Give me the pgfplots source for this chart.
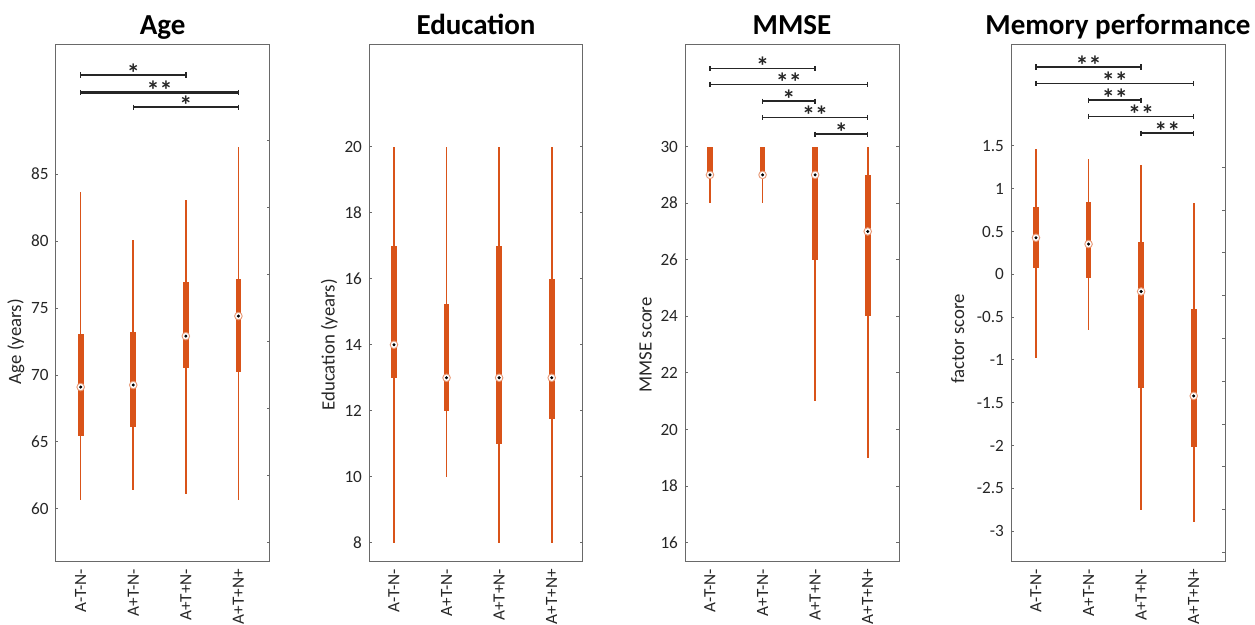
\documentclass[border=0pt]{standalone}
\usepackage{pgfplots}
\pgfplotsset{compat=1.18}
\usepgfplotslibrary{statistics}
\usepackage{fontspec}
\setmainfont{Carlito}
\definecolor{mOr}{RGB}{217,83,25}
\definecolor{spine}{RGB}{105,105,105}
\newcommand{\st}[1]{\raisebox{-5.6pt}{#1}}
\tikzset{sg/.style={font=\bfseries\fontsize{13}{13}\selectfont, anchor=south, yshift=1.85pt, inner sep=0pt, text height=3.8pt, text depth=0pt, text=black!85}}
\pgfplotsset{
  panel/.style={
    scale only axis, width=107pt, height=258.5pt,
    xmin=0.525, xmax=4.595, xtick={1,2,3,4},
    xticklabels={A-T-N-,A+T-N-,A+T+N-,A+T+N+},
    xtick style={draw=none},
    ytick pos=left, tick align=inside, major tick length=1.4pt,
    axis line style={spine, line width=0.5pt},
    every tick/.style={spine, line width=0.5pt},
    tick label style={font=\fontsize{8.6}{10}\selectfont, text=black!85},
    xticklabel style={rotate=90, anchor=east},
    /pgf/number format/assume math mode=true,
    title style={at={(0.5,1)}, anchor=base, yshift=-1pt, font=\bfseries\fontsize{14.5}{16}\selectfont},
    label style={font=\fontsize{9.4}{11}\selectfont, text=black!85},
    boxplot/draw direction=y,
    clip=false,
  },
  rt/.style={
    scale only axis, width=107pt, height=258.5pt,
    xmin=0.525, xmax=4.595, xtick=\empty,
    ytick pos=right, tick align=inside, major tick length=1.4pt,
    axis line style={spine, line width=0.5pt},
    every tick/.style={spine, line width=0.5pt},
    yticklabels={},
  },
  bx/.style={mOr, line width=0.8pt, solid,
    boxplot/draw direction=y,
    boxplot/box extend=0.108, boxplot/whisker extend=0,
    boxplot/every box/.style={draw=none, fill=mOr},
    boxplot/every median/.style={draw=none}},
  med/.style={only marks, mark=*, mark size=1.9pt, mark options={fill=white, draw=mOr!60, line width=0.45pt}},
  mdot/.style={only marks, mark=*, mark size=0.55pt, mark options={fill=black, draw=none}},
  sig/.style={black!85, line width=0.8pt, mark=|, mark size=1.3pt, mark options={solid, line width=0.7pt}},
}
\begin{document}
\begin{tikzpicture}
\path[use as bounding box] (0,0) rectangle (627.5pt,312.5pt);

% ---------------- Age ----------------
\begin{axis}[panel, at={(27.85pt,31.5pt)}, anchor=south west,
  ymin=56.04, ymax=94.64, ytick={60,65,70,75,80,85},
  title={Age}, ylabel={Age (years)}, ylabel style={at={(ticklabel cs:0.426,-3.5pt)}}]
\addplot[bx, boxplot prepared={draw position=1, lower whisker=60.66, lower quartile=65.45, median=69.1, upper quartile=73.06, upper whisker=83.7}] coordinates {};
\addplot[bx, boxplot prepared={draw position=2, lower whisker=61.4, lower quartile=66.13, median=69.25, upper quartile=73.2, upper whisker=80.05}] coordinates {};
\addplot[bx, boxplot prepared={draw position=3, lower whisker=61.1, lower quartile=70.54, median=72.9, upper quartile=76.93, upper whisker=83.1}] coordinates {};
\addplot[bx, boxplot prepared={draw position=4, lower whisker=60.66, lower quartile=70.2, median=74.4, upper quartile=77.2, upper whisker=87.0}] coordinates {};
\addplot[med] coordinates {(1,69.1) (2,69.25) (3,72.9) (4,74.4)};
\addplot[mdot] coordinates {(1,69.1) (2,69.25) (3,72.9) (4,74.4)};
\addplot[sig] coordinates {(1,92.4) (3,92.4)};
\addplot[sig, line width=1.15pt] coordinates {(1,91.1) (4,91.1)};
\addplot[sig] coordinates {(2,90.0) (4,90.0)};
\node[sg] at (axis cs:2,92.4) {\st{*}};
\node[sg] at (axis cs:2.5,91.1) {\st{**}};
\node[sg] at (axis cs:3,90.0) {\st{*}};
\end{axis}
\begin{axis}[rt, at={(27.85pt,31.5pt)}, anchor=south west,
  ymin=56.04, ymax=94.64, ytick={57.5,62.5,67.5,72.5,77.5,82.5,87.5}]
\end{axis}

% ---------------- Education ----------------
\begin{axis}[panel, at={(184.5pt,31.5pt)}, anchor=south west,
  ymin=7.42, ymax=23.08, ytick={8,10,12,14,16,18,20},
  title={Education}, ylabel={Education (years)}, ylabel style={at={(ticklabel cs:0.42,-3.5pt)}}]
\addplot[bx, boxplot prepared={draw position=1, lower whisker=8, lower quartile=13, median=14, upper quartile=17, upper whisker=20}] coordinates {};
\addplot[bx, boxplot prepared={draw position=2, lower whisker=10, lower quartile=12, median=13, upper quartile=15.23, upper whisker=20}] coordinates {};
\addplot[bx, boxplot prepared={draw position=3, lower whisker=8, lower quartile=11, median=13, upper quartile=17, upper whisker=20}] coordinates {};
\addplot[bx, boxplot prepared={draw position=4, lower whisker=8, lower quartile=11.76, median=13, upper quartile=16, upper whisker=20}] coordinates {};
\addplot[med] coordinates {(1,14) (2,13) (3,13) (4,13)};
\addplot[mdot] coordinates {(1,14) (2,13) (3,13) (4,13)};
\end{axis}
\begin{axis}[rt, at={(184.5pt,31.5pt)}, anchor=south west,
  ymin=7.42, ymax=23.08, ytick={8,10,12,14,16,18,20}]
\end{axis}

% ---------------- MMSE ----------------
\begin{axis}[panel, at={(342.5pt,31.5pt)}, anchor=south west,
  ymin=15.32, ymax=33.59, ytick={16,18,20,22,24,26,28,30},
  title={MMSE}, ylabel={MMSE score}, ylabel style={at={(ticklabel cs:0.42,-2.5pt)}}]
\addplot[bx, boxplot prepared={draw position=1, lower whisker=28, lower quartile=29, median=29, upper quartile=30, upper whisker=30}] coordinates {};
\addplot[bx, boxplot prepared={draw position=2, lower whisker=28, lower quartile=29, median=29, upper quartile=30, upper whisker=30}] coordinates {};
\addplot[bx, boxplot prepared={draw position=3, lower whisker=21, lower quartile=26, median=29, upper quartile=30, upper whisker=30}] coordinates {};
\addplot[bx, boxplot prepared={draw position=4, lower whisker=19, lower quartile=24, median=27, upper quartile=29, upper whisker=30}] coordinates {};
\addplot[med] coordinates {(1,29) (2,29) (3,29) (4,27)};
\addplot[mdot] coordinates {(1,29) (2,29) (3,29) (4,27)};
\addplot[sig] coordinates {(1,32.76) (3,32.76)};
\addplot[sig] coordinates {(1,32.2) (4,32.2)};
\addplot[sig] coordinates {(2,31.6) (3,31.6)};
\addplot[sig] coordinates {(2,31.03) (4,31.03)};
\addplot[sig] coordinates {(3,30.44) (4,30.44)};
\node[sg] at (axis cs:2,32.76) {\st{*}};
\node[sg] at (axis cs:2.5,32.2) {\st{**}};
\node[sg] at (axis cs:2.5,31.6) {\st{*}};
\node[sg] at (axis cs:3,31.03) {\st{**}};
\node[sg] at (axis cs:3.5,30.44) {\st{*}};
\end{axis}
\begin{axis}[rt, at={(342.5pt,31.5pt)}, anchor=south west,
  ymin=15.32, ymax=33.59, ytick={16,18,20,22,24,26,28,30}]
\end{axis}

% ---------------- Memory performance ----------------
\begin{axis}[panel, at={(505.5pt,31.5pt)}, anchor=south west,
  ymin=-3.36, ymax=2.68, ytick={-3,-2.5,-2,-1.5,-1,-0.5,0,0.5,1,1.5},
  title={Memory performance}, ylabel={factor score}, ylabel style={at={(ticklabel cs:0.432,-0.5pt)}}]
\addplot[bx, boxplot prepared={draw position=1, lower whisker=-0.978, lower quartile=0.079, median=0.428, upper quartile=0.782, upper whisker=1.467}] coordinates {};
\addplot[bx, boxplot prepared={draw position=2, lower whisker=-0.652, lower quartile=-0.047, median=0.354, upper quartile=0.848, upper whisker=1.351}] coordinates {};
\addplot[bx, boxplot prepared={draw position=3, lower whisker=-2.748, lower quartile=-1.327, median=-0.2, upper quartile=0.373, upper whisker=1.281}] coordinates {};
\addplot[bx, boxplot prepared={draw position=4, lower whisker=-2.888, lower quartile=-2.012, median=-1.42, upper quartile=-0.41, upper whisker=0.838}] coordinates {};
\addplot[med] coordinates {(1,0.428) (2,0.354) (3,-0.2) (4,-1.42)};
\addplot[mdot] coordinates {(1,0.428) (2,0.354) (3,-0.2) (4,-1.42)};
\addplot[sig] coordinates {(1,2.422) (3,2.422)};
\addplot[sig] coordinates {(1,2.231) (4,2.231)};
\addplot[sig] coordinates {(2,2.035) (3,2.035)};
\addplot[sig] coordinates {(2,1.844) (4,1.844)};
\addplot[sig] coordinates {(3,1.649) (4,1.649)};
\node[sg] at (axis cs:2,2.422) {\st{**}};
\node[sg] at (axis cs:2.5,2.231) {\st{**}};
\node[sg] at (axis cs:2.5,2.035) {\st{**}};
\node[sg] at (axis cs:3,1.844) {\st{**}};
\node[sg] at (axis cs:3.5,1.649) {\st{**}};
\end{axis}
\begin{axis}[rt, at={(505.5pt,31.5pt)}, anchor=south west,
  ymin=-3.36, ymax=2.68, ytick={-3.25,-2.75,-2.25,-1.75,-1.25,-0.75,-0.25,0.25,0.75,1.25}]
\end{axis}
\end{tikzpicture}
\end{document}
